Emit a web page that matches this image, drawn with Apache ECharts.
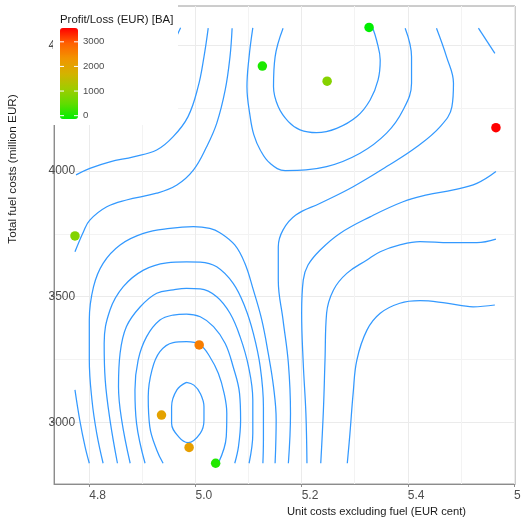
<!DOCTYPE html>
<html><head><meta charset="utf-8">
<script src="https://cdn.jsdelivr.net/npm/echarts@6/dist/echarts.min.js"></script>
<style>html,body{margin:0;padding:0;background:#fff}#c{width:521px;height:522px}</style>
</head><body><div id="c"></div>
<script>
// ---- axis ticks ----
const xTicks = [4.8, 5.0, 5.2, 5.4, 5.6];
const xMinorTicks = [4.9, 5.1, 5.3, 5.5];
const yTicks = [3000, 3500, 4000, 4500];
const yMinorTicks = [3250, 3750, 4250];
const legendTicks = [0, 1000, 2000, 3000];
const xRange = [4.7335, 5.6019];
const yRange = [2754.4, 4657.3];
const legendRange = [-135, 3561];

// ---- points ----
const unitCosts = [5.327, 5.126, 5.248, 5.566, 4.773, 5.007, 4.936, 4.988, 5.038];
const fuelCosts = [4572, 4418, 4358, 4173, 3742, 3308, 3029, 2900, 2837];
const profitLoss = [-135, 40, 850, 3561, 820, 2600, 2050, 2100, 80];

// ---- contour lines [unit cost, fuel cost] ----
const contourHidden = [[4.972,4571],[4.963,4529],[4.948,4449],[4.924,4370],[4.886,4315],[4.830,4287],[4.775,4275]];
const contourTL1 = [[5.024,4569],[5.016,4455],[5.005,4336],[4.986,4217],[4.958,4137],[4.927,4084],[4.883,4057],[4.839,4037],[4.801,4011],[4.775,3985]];
const contourTL2 = [[5.069,4569],[5.065,4455],[5.056,4323],[5.040,4190],[5.021,4097],[4.996,4004],[4.965,3945],[4.927,3912],[4.870,3885],[4.833,3858],[4.801,3805],[4.789,3759],[4.773,3679]];
const contourTopU1 = [[5.165,4569],[5.150,4455],[5.147,4336],[5.156,4256],[5.175,4197],[5.197,4164],[5.228,4153],[5.266,4170],[5.304,4217],[5.329,4283],[5.344,4363],[5.348,4442],[5.341,4522],[5.334,4569]];
const contourTopU2 = [[5.108,4570],[5.101,4455],[5.097,4336],[5.103,4217],[5.110,4144],[5.122,4084],[5.140,4032],[5.169,4002],[5.247,4018],[5.310,4071],[5.360,4151],[5.391,4243],[5.407,4350],[5.407,4455],[5.395,4569]];
const contourS1 = [[5.454,4569],[5.473,4455],[5.486,4350],[5.483,4256],[5.461,4177],[5.417,4097],[5.360,4018],[5.297,3938],[5.235,3872],[5.189,3825],[5.165,3766],[5.156,3699],[5.156,3566],[5.165,3407],[5.175,3235],[5.179,3036],[5.175,2837]];
const contourCorner = [[5.533,4569],[5.564,4469]];
const contourS2 = [[5.566,3998],[5.530,3951],[5.486,3925],[5.436,3905],[5.391,3878],[5.329,3818],[5.272,3752],[5.235,3686],[5.212,3626],[5.203,3566],[5.200,3434],[5.203,3235],[5.208,3036],[5.210,2837]];
const contourS3 = [[5.566,3729],[5.530,3715],[5.479,3715],[5.423,3719],[5.385,3706],[5.348,3679],[5.323,3646],[5.285,3593],[5.260,3527],[5.247,3434],[5.244,3248],[5.241,3049],[5.236,2837]];
const contourS4 = [[5.564,3467],[5.523,3460],[5.473,3474],[5.423,3484],[5.385,3474],[5.348,3434],[5.323,3367],[5.304,3248],[5.297,3115],[5.291,2956],[5.286,2837]];
const contourArch5 = [[4.826,2837],[4.814,2956],[4.805,3089],[4.800,3248],[4.800,3407],[4.808,3540],[4.826,3633],[4.858,3706],[4.902,3752],[4.952,3772],[4.996,3779],[5.027,3772],[5.046,3755],[5.074,3706],[5.093,3633],[5.109,3527],[5.125,3407],[5.137,3275],[5.147,3142],[5.152,3009],[5.150,2837]];
const contourArch4 = [[4.853,2837],[4.839,3009],[4.830,3168],[4.828,3314],[4.839,3447],[4.864,3540],[4.902,3606],[4.946,3635],[4.983,3639],[5.009,3638],[5.040,3619],[5.071,3553],[5.093,3460],[5.109,3354],[5.122,3221],[5.128,3062],[5.128,2930],[5.127,2837]];
const contourArch3 = [[4.877,2837],[4.861,3009],[4.855,3142],[4.858,3275],[4.870,3381],[4.896,3460],[4.927,3514],[4.958,3527],[4.983,3533],[5.009,3531],[5.040,3500],[5.065,3434],[5.084,3341],[5.100,3221],[5.108,3089],[5.108,2956],[5.101,2837]];
const contourArch2 = [[4.905,2837],[4.889,2996],[4.886,3129],[4.892,3248],[4.908,3341],[4.933,3407],[4.958,3427],[4.983,3431],[5.009,3420],[5.034,3381],[5.056,3314],[5.071,3221],[5.083,3115],[5.085,3009],[5.081,2903],[5.074,2837]];
const contourArch1 = [[4.939,2837],[4.927,2890],[4.914,2982],[4.911,3102],[4.918,3208],[4.933,3281],[4.958,3317],[4.983,3321],[5.009,3308],[5.027,3261],[5.043,3195],[5.054,3115],[5.059,3036],[5.058,2943],[5.043,2837]];
const contourEllipse = [[4.983,3159],[4.965,3129],[4.955,3062],[4.955,2996],[4.968,2943],[4.986,2919],[5.009,2956],[5.016,3009],[5.016,3062],[5.009,3115],[4.997,3148],[4.983,3159]];
const contourShort = [[4.773,3129],[4.782,3009],[4.792,2903],[4.800,2837]];

const contours = [contourHidden, contourTL1, contourTL2, contourTopU1, contourTopU2, contourS1, contourCorner,
  contourS2, contourS3, contourS4, contourArch5, contourArch4, contourArch3, contourArch2, contourArch1, contourEllipse, contourShort];

const FONT = "'Liberation Sans', Arial, Helvetica, sans-serif";
const chart = echarts.init(document.getElementById('c'), null, {renderer: 'canvas'});

const lineSeries = contours.map(c => ({
  type: 'line', data: c, showSymbol: false, smooth: 0.4, silent: true, z: 2,
  lineStyle: {color: '#3399ff', width: 1.25}, xAxisIndex: 0, yAxisIndex: 0
}));
const scatterData = unitCosts.map((x, i) => [x, fuelCosts[i], profitLoss[i]]);
const scatterSeries = {type: 'scatter', data: scatterData, symbolSize: 9.5, z: 3, xAxisIndex: 0, yAxisIndex: 0,
  itemStyle: {opacity: 1}};
const series = lineSeries.concat([scatterSeries]);

// legend geometry
const vmLeft = 60, vmTop = 28, vmW = 18, vmH = 91;
const legendY = v => vmTop + (legendRange[1] - v) / (legendRange[1] - legendRange[0]) * vmH;
const legendEls = [];
legendTicks.forEach(v => {
  const y = legendY(v);
  legendEls.push({type: 'text', z: 30, style: {text: String(v), x: 83, y: y, fontSize: 9.6, fontFamily: FONT, fill: '#4d4d4d', verticalAlign: 'middle', align: 'left'}});
  legendEls.push({type: 'line', z: 30, shape: {x1: vmLeft, y1: y, x2: vmLeft + 4, y2: y}, style: {stroke: '#fff', lineWidth: 1}});
  legendEls.push({type: 'line', z: 30, shape: {x1: vmLeft + vmW - 4, y1: y, x2: vmLeft + vmW, y2: y}, style: {stroke: '#fff', lineWidth: 1}});
});

const option = {
  animation: false,
  backgroundColor: '#fff',
  grid: {left: 54, right: 6, top: 6, bottom: 38, show: true, borderColor: '#9a9a9a', borderWidth: 1,
         containLabel: false, outerBoundsMode: 'none'},
  xAxis: [
    {type: 'value', min: xRange[0], max: xRange[1], position: 'bottom',
     axisLine: {show: true, lineStyle: {color: '#8c8c8c'}},
     axisTick: {show: true, customValues: xTicks, length: 3, lineStyle: {color: '#8c8c8c'}},
     axisLabel: {customValues: xTicks, align: 'left', margin: 6, color: '#4d4d4d', fontSize: 12, fontFamily: FONT, formatter: v => v.toFixed(1)},
     splitLine: {show: true, lineStyle: {color: '#ebebeb', width: 1}}},
    {type: 'value', min: xRange[0], max: xRange[1], position: 'top',
     axisLine: {show: false}, axisTick: {show: false, customValues: xMinorTicks}, axisLabel: {show: false},
     splitLine: {show: true, lineStyle: {color: '#f3f3f3', width: 1}}}
  ],
  yAxis: [
    {type: 'value', min: yRange[0], max: yRange[1], position: 'left',
     axisLine: {show: true, lineStyle: {color: '#8c8c8c'}},
     axisTick: {show: true, customValues: yTicks, length: 3, lineStyle: {color: '#8c8c8c'}},
     axisLabel: {customValues: yTicks, align: 'left', margin: 5.5, color: '#4d4d4d', fontSize: 12, fontFamily: FONT, formatter: v => String(v)},
     splitLine: {show: true, lineStyle: {color: '#ebebeb', width: 1}}},
    {type: 'value', min: yRange[0], max: yRange[1], position: 'right',
     axisLine: {show: false}, axisTick: {show: false, customValues: yMinorTicks}, axisLabel: {show: false},
     splitLine: {show: true, lineStyle: {color: '#f3f3f3', width: 1}}}
  ],
  visualMap: {
    type: 'continuous', seriesIndex: series.length - 1, dimension: 2,
    min: legendRange[0], max: legendRange[1], calculable: false,
    left: vmLeft, top: vmTop, itemWidth: vmW, itemHeight: vmH, padding: 0, z: 20,
    inRange: {color: ['#00ee00', '#60dc00', '#a0cc00', '#d4b200', '#f29400', '#ff6000', '#ff0000']}
  },
  graphic: [
    {type: 'rect', z: 10, shape: {x: 53, y: 0, width: 125, height: 125}, style: {fill: '#fff'}},
    {type: 'text', z: 30, style: {text: 'Profit/Loss (EUR) [BA]', x: 60, y: 20, fontSize: 11.4, fontFamily: FONT, fill: '#1a1a1a', verticalAlign: 'middle', align: 'left'}},
    {type: 'text', z: 30, style: {text: 'Unit costs excluding fuel (EUR cent)', x: 376.5, y: 511.5, fontSize: 11.2, fontFamily: FONT, fill: '#1a1a1a', verticalAlign: 'middle', align: 'center'}},
    {type: 'text', z: 30, x: 13, y: 169, rotation: Math.PI / 2, style: {text: 'Total fuel costs (million EUR)', x: 0, y: 0, fontSize: 11.7, fontFamily: FONT, fill: '#1a1a1a', verticalAlign: 'middle', align: 'center'}}
  ].concat(legendEls),
  series: series
};
chart.setOption(option);
</script>
</body></html>
